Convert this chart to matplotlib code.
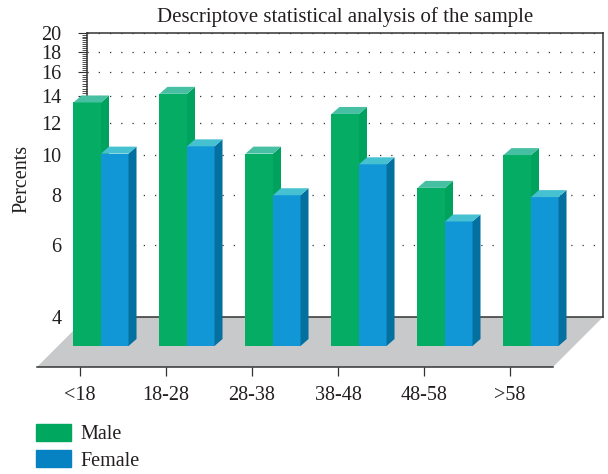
import matplotlib
matplotlib.use('Agg')
import matplotlib.pyplot as plt
import matplotlib.transforms as mtransforms
from matplotlib.patches import Polygon, Patch
import numpy as np

plt.rcParams['font.family'] = ['Liberation Serif', 'DejaVu Serif']

# datos
groups = ['<18', '18-28', '28-38', '38-48', '48-58', '>58']
male = [15.9, 16.7, 11.9, 14.9, 9.8, 11.8]
female = [11.9, 12.4, 9.4, 11.2, 8.1, 9.3]
y_ticks = [4, 6, 8, 10, 12, 14, 16, 18, 20]
series_names = ['Male', 'Female']

# colores: frente, tapa, lateral
male_cols = ('#04ad63', '#47bfa3', '#00a35e')
female_cols = ('#1197d6', '#46c1d1', '#03709f')
legend_cols = ['#00a85f', '#0681c1']
text_col = '#231f20'
line_col = '#333333'

W, H = 608, 474
fig = plt.figure(figsize=(W / 100, H / 100), dpi=100)

# pared del fondo
ax = fig.add_axes([87 / W, 1 - 317 / H, 516 / W, 284 / H])
ax.set_yscale('log')
ax.set_ylim(4, 20)
ax.set_xlim(0, 6)
ax.set_xticks([])
ax.set_yticks(y_ticks)
ax.set_yticklabels([str(t) for t in y_ticks])
ax.set_yticks(np.arange(4, 20, 0.2), minor=True)
ax.yaxis.set_minor_formatter(plt.NullFormatter())
ax.tick_params(axis='y', which='major', length=6.5, width=0.8, pad=12,
               labelsize=14.5, color=line_col, labelcolor=text_col)
ax.tick_params(axis='y', which='minor', length=3.5, width=0.6, color=line_col)
ax.grid(axis='y', which='major', linestyle=(0, (1, 8)), linewidth=0.9, color=line_col)
for s in ax.spines.values():
    s.set_color(line_col)
    s.set_linewidth(1.1)

# suelo gris
depth = 50
bl = ax.transAxes.transform((0, 0))
br = ax.transAxes.transform((1, 0))
floor = np.array([bl, br, br - depth, bl - depth])
fig.add_artist(Polygon(floor, closed=True, facecolor='#c8c9ca', edgecolor='none',
                       transform=mtransforms.IdentityTransform(), zorder=-1))

# plano de las barras: desplazado 29 px hacia abajo-izquierda
bar_tr = ax.transData + mtransforms.ScaledTranslation(-0.29, -0.29, fig.dpi_scale_trans)
dx, dy = 8, 7
w = 0.32


def draw_bar(x0, val, cols, z):
    ax.bar(x0, val - 4, w, bottom=4, align='edge', color=cols[0], transform=bar_tr,
           clip_on=False, zorder=z)
    p = bar_tr.transform([(x0, 4), (x0 + w, 4), (x0 + w, val), (x0, val)])
    side = [p[1], p[2], p[2] + (dx, dy), p[1] + (dx, dy)]
    top = [p[3], p[2], p[2] + (dx, dy), p[3] + (dx, dy)]
    for pts, c in [(side, cols[2]), (top, cols[1])]:
        ax.add_patch(Polygon(pts, closed=True, facecolor=c, edgecolor='none',
                             transform=mtransforms.IdentityTransform(),
                             clip_on=False, zorder=z))


z = 3
for i in range(len(groups)):
    c = i + 0.5
    draw_bar(c - w, male[i], male_cols, z)
    draw_bar(c, female[i], female_cols, z + 0.1)
    z += 0.2

ax.set_ylim(4, 20)
ax.set_xlim(0, 6)

# eje frontal con las categorias
fax = fig.add_axes([(87 - depth) / W, 1 - (317 + depth) / H, 516 / W, 0.0001])
fax.set_facecolor('none')
for k in ['top', 'left', 'right']:
    fax.spines[k].set_visible(False)
fax.spines['bottom'].set_color(line_col)
fax.spines['bottom'].set_linewidth(1.1)
fax.set_xlim(0, 6)
fax.set_xticks(np.arange(len(groups)) + 0.5)
fax.set_xticklabels(groups)
fax.set_yticks([])
fax.tick_params(axis='x', length=6.5, width=0.9, pad=7, labelsize=14.5,
                color=line_col, labelcolor=text_col)

ax.set_title('Descriptove statistical analysis of the sample', fontsize=15,
             color=text_col, pad=8)
fig.text(22 / W, 1 - 179 / H, 'Percents', rotation=90, ha='center', va='center',
         fontsize=14.5, color=text_col)

handles = [Patch(color=legend_cols[0]), Patch(color=legend_cols[1])]
fig.legend(handles, series_names, loc='upper left', bbox_to_anchor=(36 / W, 1 - 424 / H),
           frameon=False, fontsize=14.5, handlelength=1.75, handleheight=0.9,
           handletextpad=0.45, labelspacing=0.3, borderpad=0, borderaxespad=0,
           labelcolor=text_col)

fig.savefig('out.png', dpi=100)
